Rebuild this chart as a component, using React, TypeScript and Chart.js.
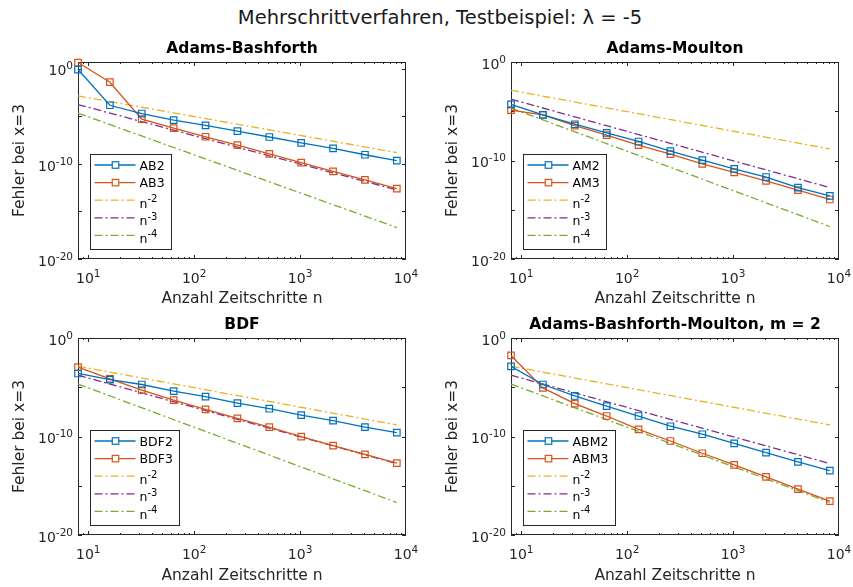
import React, { useEffect, useRef } from 'react';
import { Chart, registerables } from 'chart.js';

Chart.register(...registerables);

const FONT = '"DejaVu Sans", sans-serif';
const TXT = '#262626';
const AXIS = '#262626';

// ---- data ----
const nValues = [8, 16, 32, 64, 128, 256, 512, 1024, 2048, 4096, 8192];

const ab2 = [7.9e-1, 1.4e-4, 1.9e-5, 3.9e-6, 1.1e-6, 2.7e-7, 6.5e-8, 1.6e-8, 4.2e-9, 8.9e-10, 2.1e-10];
const ab3 = [4.3, 3.7e-2, 4.9e-6, 5.6e-7, 6.9e-8, 9.3e-9, 1.1e-9, 1.3e-10, 1.6e-11, 2.0e-12, 2.5e-13];

const am2 = [5.1e-5, 4.3e-6, 4.8e-7, 6.3e-8, 8.5e-9, 8.9e-10, 1.1e-10, 1.4e-11, 2.1e-12, 1.8e-13, 2.6e-14];
const am3 = [1.3e-5, 4.3e-6, 3.5e-7, 3.7e-8, 3.6e-9, 4.4e-10, 4.6e-11, 6.2e-12, 8.5e-13, 1.0e-13, 1.1e-14];

const bdf2 = [2.5e-4, 6.0e-5, 1.9e-5, 4.0e-6, 1.1e-6, 2.5e-7, 6.6e-8, 1.5e-8, 4.0e-9, 9.1e-10, 2.5e-10];
const bdf3 = [1.1e-3, 7.1e-5, 5.0e-6, 4.9e-7, 5.6e-8, 6.9e-9, 9.1e-10, 9.5e-11, 1.2e-11, 1.5e-12, 2.0e-13];

const abm2 = [1.3e-3, 1.9e-5, 1.3e-6, 1.2e-7, 1.2e-8, 1.1e-9, 1.7e-10, 2.0e-11, 2.3e-12, 2.6e-13, 3.5e-14];
const abm3 = [1.7e-2, 8.7e-6, 2.2e-7, 1.2e-8, 5.2e-10, 3.5e-11, 2.0e-12, 1.3e-13, 7.9e-15, 4.5e-16, 2.8e-17];

// reference lines (values read at n = 8 and n = 8192)
const refN = [8, 8192];
const refN2 = [1.35e-3, 1.5e-9];
const refN3 = [1.67e-4, 1.8e-13];
const refN4 = [2.1e-5, 2.0e-17];

// tick labels: base 10 with exponent
const xTickValues = [10, 100, 1000, 10000];
const xTickExps = ['1', '2', '3', '4'];
const yTickValues = [1e-20, 1e-10, 1];
const yTickExps = ['-20', '-10', '0'];
const yMarkExponents = [-20, -15, -10, -5, 0];

const mainTitle = 'Mehrschrittverfahren, Testbeispiel: λ = -5';
const xTitle = 'Anzahl Zeitschritte n';
const yTitle = 'Fehler bei x=3';

const BLUE = '#0072BD';
const ORANGE = '#D95319';
const YELLOW = '#EDB120';
const PURPLE = '#7E2F8E';
const GREEN = '#77AC30';

type Panel = {
  title: string;
  names: [string, string];
  series: [number[], number[]];
  yMax: number;
  left: number;
  top: number;
  width: number;
  height: number;
  padRight: number;
  yAxisWidth: number;
  yTitlePad: number;
};

const panels: Panel[] = [
  { title: 'Adams-Bashforth', names: ['AB2', 'AB3'], series: [ab2, ab3], yMax: 4.9,
    left: 0, top: 28, width: 426, height: 282, padRight: 20, yAxisWidth: 78, yTitlePad: 10.7 },
  { title: 'Adams-Moulton', names: ['AM2', 'AM3'], series: [am2, am3], yMax: 1,
    left: 430, top: 28, width: 423, height: 282, padRight: 14, yAxisWidth: 81, yTitlePad: 13.7 },
  { title: 'BDF', names: ['BDF2', 'BDF3'], series: [bdf2, bdf3], yMax: 1,
    left: 0, top: 304, width: 426, height: 283, padRight: 20, yAxisWidth: 78, yTitlePad: 10.7 },
  { title: 'Adams-Bashforth-Moulton, m = 2', names: ['ABM2', 'ABM3'], series: [abm2, abm3], yMax: 1,
    left: 430, top: 304, width: 423, height: 283, padRight: 14, yAxisWidth: 81, yTitlePad: 13.7 },
];

// draws "base" followed by raised "exp"; y is the baseline of base
function drawPow(ctx: CanvasRenderingContext2D, base: string, exp: string, x: number, y: number,
  align: string, baseSize: number, supSize: number, raise: number) {
  ctx.font = `${baseSize}px ${FONT}`;
  const wb = ctx.measureText(base).width;
  ctx.font = `${supSize}px ${FONT}`;
  const we = exp ? ctx.measureText(exp).width : 0;
  const total = wb + we;
  let sx = x;
  if (align === 'center') sx = x - total / 2;
  else if (align === 'right') sx = x - total;
  ctx.textAlign = 'left';
  ctx.textBaseline = 'alphabetic';
  ctx.font = `${baseSize}px ${FONT}`;
  ctx.fillText(base, sx, y);
  if (exp) {
    ctx.font = `${supSize}px ${FONT}`;
    ctx.fillText(exp, sx + wb, y - raise);
  }
}

const framePlugin = {
  id: 'frameTicks',
  beforeDatasetsDraw(chart: any) {
    const ctx = chart.ctx;
    const { left, right, top, bottom } = chart.chartArea;
    const xs = chart.scales.x;
    const ys = chart.scales.y;
    ctx.save();
    ctx.strokeStyle = AXIS;
    ctx.lineWidth = 1;
    ctx.strokeRect(left + 0.5, top + 0.5, right - left - 1, bottom - top - 1);
    ctx.beginPath();
    for (let e = 0; e <= 3; e++) {
      for (let m = 1; m <= 9; m++) {
        const v = m * Math.pow(10, e);
        if (v <= xs.min || v >= xs.max) continue;
        const len = m === 1 ? 4 : 2;
        const px = Math.round(xs.getPixelForValue(v)) + 0.5;
        ctx.moveTo(px, bottom);
        ctx.lineTo(px, bottom - len);
        ctx.moveTo(px, top);
        ctx.lineTo(px, top + len);
      }
    }
    for (const e of yMarkExponents) {
      const v = Math.pow(10, e);
      if (v < ys.min * 0.999 || v > ys.max * 1.001) continue;
      const py = Math.round(ys.getPixelForValue(v)) + 0.5;
      ctx.moveTo(left, py);
      ctx.lineTo(left + 4, py);
      ctx.moveTo(right, py);
      ctx.lineTo(right - 4, py);
    }
    ctx.stroke();
    ctx.restore();
  },
  afterDraw(chart: any) {
    const ctx = chart.ctx;
    const { left, bottom } = chart.chartArea;
    const xs = chart.scales.x;
    const ys = chart.scales.y;

    // tick labels
    ctx.save();
    ctx.fillStyle = TXT;
    xTickValues.forEach((v, i) => {
      const px = xs.getPixelForValue(v);
      drawPow(ctx, '10', xTickExps[i], px, bottom + 24, 'center', 14, 10.5, 6);
    });
    yTickValues.forEach((v, i) => {
      const py = ys.getPixelForValue(v);
      drawPow(ctx, '10', yTickExps[i], left - 5, py + 6.8, 'right', 14, 10.5, 6);
    });
    ctx.restore();

    // legend
    const ds = chart.data.datasets;
    const fontSize = 12.5;
    const supSize = 10;
    ctx.save();
    let maxW = 0;
    for (const d of ds) {
      const [b, e] = String(d.label).split('^');
      ctx.font = `${fontSize}px ${FONT}`;
      let wd = ctx.measureText(b).width;
      if (e) {
        ctx.font = `${supSize}px ${FONT}`;
        wd += ctx.measureText(e).width;
      }
      maxW = Math.max(maxW, wd);
    }
    const h = 95;
    const x0 = Math.round(left + 12) + 0.5;
    const y0 = Math.round(bottom - 10 - h) + 0.5;
    const w = Math.round(49 + maxW + 7);
    ctx.fillStyle = '#ffffff';
    ctx.fillRect(x0, y0, w, h);
    ctx.strokeStyle = AXIS;
    ctx.lineWidth = 1;
    ctx.strokeRect(x0, y0, w, h);
    ds.forEach((d: any, i: number) => {
      const yy = y0 + 10.5 + i * 17.6;
      ctx.save();
      ctx.strokeStyle = d.borderColor;
      ctx.lineWidth = d.borderWidth;
      ctx.setLineDash(d.borderDash || []);
      ctx.beginPath();
      ctx.moveTo(x0 + 4, yy);
      ctx.lineTo(x0 + 45, yy);
      ctx.stroke();
      ctx.setLineDash([]);
      if (d.pointRadius > 0) {
        const s = d.pointRadius * Math.SQRT1_2;
        ctx.fillStyle = '#ffffff';
        ctx.fillRect(x0 + 25 - s, yy - s, 2 * s, 2 * s);
        ctx.lineWidth = d.pointBorderWidth;
        ctx.strokeRect(x0 + 25 - s, yy - s, 2 * s, 2 * s);
      }
      ctx.restore();
      const [b, e] = String(d.label).split('^');
      ctx.fillStyle = '#000000';
      drawPow(ctx, b, e || '', x0 + 49, yy + (e ? 7.5 : 4.6), 'left', fontSize, supSize, 5.5);
    });
    ctx.restore();
  },
};

function seriesSet(label: string, values: number[], color: string) {
  return {
    label,
    data: nValues.map((n, i) => ({ x: n, y: values[i] })),
    borderColor: color,
    backgroundColor: color,
    borderWidth: 1.3,
    pointStyle: 'rect',
    pointRadius: 4.6,
    pointBorderColor: color,
    pointBackgroundColor: 'rgba(0,0,0,0)',
    pointBorderWidth: 1.2,
    fill: false,
    tension: 0,
    clip: false,
  };
}

function refSet(label: string, values: number[], color: string) {
  return {
    label,
    data: refN.map((n, i) => ({ x: n, y: values[i] })),
    borderColor: color,
    backgroundColor: color,
    borderWidth: 1.3,
    borderDash: [8, 3, 2, 3],
    pointRadius: 0,
    fill: false,
    tension: 0,
    clip: false,
  };
}

function makeConfig(p: Panel): any {
  const labelFont = { family: FONT, size: 15.5 };
  return {
    type: 'line',
    data: {
      datasets: [
        seriesSet(p.names[0], p.series[0], BLUE),
        seriesSet(p.names[1], p.series[1], ORANGE),
        refSet('n^-2', refN2, YELLOW),
        refSet('n^-3', refN3, PURPLE),
        refSet('n^-4', refN4, GREEN),
      ],
    },
    options: {
      responsive: false,
      animation: false,
      events: [],
      layout: { padding: { top: 0, left: 0, right: p.padRight, bottom: 0 } },
      plugins: {
        legend: { display: false },
        tooltip: { enabled: false },
        title: {
          display: true,
          fullSize: false,
          text: p.title,
          color: '#000000',
          font: { family: FONT, size: 15.5, weight: 'bold' },
          padding: { top: 11.7, bottom: 3.7 },
        },
      },
      scales: {
        x: {
          type: 'logarithmic',
          min: 8,
          max: 10000,
          afterBuildTicks: (s: any) => {
            s.ticks = xTickValues.map((v) => ({ value: v }));
          },
          afterFit: (s: any) => {
            s.height = p.height - 231;
          },
          grid: { display: false, drawTicks: false },
          border: { display: false },
          ticks: { display: false },
          title: {
            display: true,
            text: xTitle,
            color: TXT,
            font: labelFont,
            padding: { top: 0, bottom: 1.7 },
          },
        },
        y: {
          type: 'logarithmic',
          min: 1e-20,
          max: p.yMax,
          afterBuildTicks: (s: any) => {
            s.ticks = yTickValues.map((v) => ({ value: v }));
          },
          afterFit: (s: any) => {
            s.width = p.yAxisWidth;
          },
          grid: { display: false, drawTicks: false },
          border: { display: false },
          ticks: { display: false },
          title: {
            display: true,
            text: yTitle,
            color: TXT,
            font: labelFont,
            padding: { top: p.yTitlePad, bottom: 0 },
          },
        },
      },
    },
    plugins: [framePlugin],
  };
}

function PanelChart({ p }: { p: Panel }) {
  const ref = useRef<HTMLCanvasElement | null>(null);
  useEffect(() => {
    if (!ref.current) return;
    const chart = new Chart(ref.current, makeConfig(p));
    return () => chart.destroy();
  }, [p]);
  return (
    <canvas
      ref={ref}
      width={p.width}
      height={p.height}
      style={{ position: 'absolute', left: p.left, top: p.top, width: p.width, height: p.height }}
    />
  );
}

export default function App() {
  return (
    <div
      style={{
        position: 'absolute',
        left: 0,
        top: 0,
        width: 853,
        height: 587,
        background: '#ffffff',
        overflow: 'hidden',
      }}
    >
      <div
        style={{
          position: 'absolute',
          left: 440,
          top: 18,
          transform: 'translate(-50%, -50%)',
          whiteSpace: 'nowrap',
          fontFamily: FONT,
          fontSize: 19.5,
          color: '#1a1a1a',
          lineHeight: 1,
        }}
      >
        {mainTitle}
      </div>
      {panels.map((p, i) => (
        <PanelChart key={i} p={p} />
      ))}
    </div>
  );
}
